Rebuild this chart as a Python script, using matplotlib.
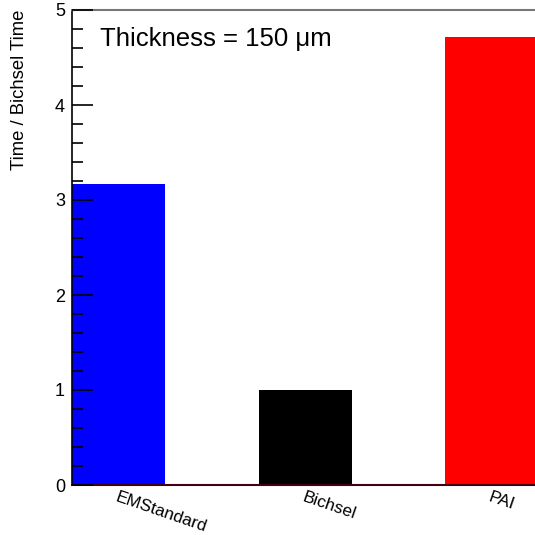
import numpy as np
import matplotlib.pyplot as plt
from matplotlib.ticker import MultipleLocator

# values
models = ["EMStandard", "", "Bichsel", "", "PAI"]
ratios = [3.17, 0.0, 1.0, 0.0, 4.72]
colors = ["#0000ff", "white", "#000000", "white", "#ff0000"]

plt.rcParams['font.family'] = ['Liberation Sans', 'DejaVu Sans']

fig = plt.figure(figsize=(5.35, 5.35), dpi=100)
ax = fig.add_axes([72/535, 50/535, 466.5/535, 475/535])

x = np.arange(len(models))
ax.bar(x, ratios, width=1.0, color=colors, align='edge', zorder=1)

ax.set_xlim(0, len(models))
ax.set_ylim(0, 5)

ax.yaxis.set_major_locator(MultipleLocator(1))
ax.yaxis.set_minor_locator(MultipleLocator(0.2))
ax.tick_params(axis='y', which='major', direction='in', length=15, width=1.2,
               labelsize=13, pad=5)
ax.tick_params(axis='y', which='minor', direction='in', length=8, width=1.2)
ax.set_axisbelow(False)

ax.set_xticks([])
for i, name in enumerate(models):
    if name:
        ax.text(i + 0.5, -0.05, name, rotation=-19, rotation_mode='anchor',
                ha='left', va='top', fontsize=12.3)

ax.spines['right'].set_visible(False)
ax.spines['top'].set_color('#777777')
ax.spines['top'].set_linewidth(1.5)
ax.spines['bottom'].set_color('#400010')
ax.spines['bottom'].set_linewidth(1.5)
ax.spines['left'].set_linewidth(1.2)

ax.yaxis.set_label_coords(-0.095, 0.996)
ax.set_ylabel("Time / Bichsel Time", fontsize=13.3, loc='top')

ax.text(0.06, 0.965, "Thickness = 150 μm", transform=ax.transAxes,
        fontsize=18.5, ha='left', va='top')

fig.savefig("out.png", dpi=100)
